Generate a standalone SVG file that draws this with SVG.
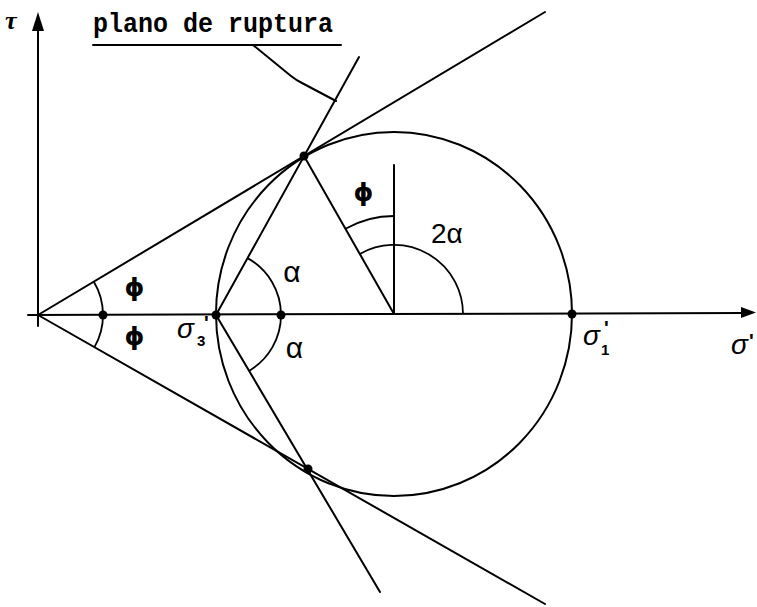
<svg xmlns="http://www.w3.org/2000/svg" width="757" height="607" viewBox="0 0 757 607">
<style>
.ln{stroke:#000;stroke-width:2;fill:none;stroke-linecap:round}
.arc{stroke:#000;stroke-width:1.8;fill:none}
.dot{fill:#000}
.gk{font-family:"Liberation Sans","DejaVu Sans",sans-serif;font-size:30px;fill:#000}
.ph{font-family:"DejaVu Sans",sans-serif;font-size:25px;font-weight:bold;fill:#000}
.sg{font-family:"Liberation Sans","DejaVu Sans",sans-serif;font-style:italic;font-size:28px;fill:#000}
.sub{font-family:"Liberation Sans","DejaVu Sans",sans-serif;font-size:15px;font-weight:bold;fill:#000}
.pr{font-family:"Liberation Sans","DejaVu Sans",sans-serif;font-size:20px;font-weight:bold;fill:#000}
</style>
<rect width="757" height="607" fill="#fff"/>
<g id="axes">
<line class="ln" x1="38" y1="326" x2="38" y2="28"/>
<polygon class="dot" points="38,12 32,31 44,31"/>
<line class="ln" x1="28" y1="315" x2="744" y2="313"/>
<polygon class="dot" points="756,312.5 741,307 741,318"/>
<text x="5" y="29" style="font-family:'Liberation Serif',serif;font-style:italic;font-weight:bold;font-size:26px">τ</text>
<text class="sg" x="731" y="354">σ</text>
<text class="pr" x="749" y="348">'</text>
</g>
<g id="circle">
<ellipse cx="394" cy="314" rx="178" ry="182" class="ln"/>
</g>
<g id="connectors">
<line class="ln" x1="38" y1="315" x2="545" y2="12"/>
<line class="ln" x1="38" y1="315" x2="545" y2="604"/>
<line class="ln" x1="216" y1="315" x2="359" y2="57"/>
<line class="ln" x1="216" y1="315" x2="380" y2="592"/>
<line class="ln" x1="394" y1="314" x2="304" y2="156"/>
<line class="ln" x1="394" y1="314" x2="394" y2="165"/>
</g>
<g id="arcs">
<path class="arc" d="M93.7,281.5 A65,65 0 0 1 103,315"/>
<path class="arc" d="M103,315 A65,65 0 0 1 94.6,346.9"/>
<path class="arc" d="M247.5,258.1 A65,65 0 0 1 281,315"/>
<path class="arc" d="M281,315 A65,65 0 0 1 249.1,370.9"/>
<path class="arc" d="M394,216 A98,98 0 0 0 345.5,228.8"/>
<path class="arc" d="M359.8,254 A69,69 0 0 1 463,314"/>
</g>
<g id="points">
<circle class="dot" cx="103" cy="315" r="4.5"/>
<circle class="dot" cx="216" cy="315" r="4.5"/>
<circle class="dot" cx="281" cy="315" r="4.5"/>
<circle class="dot" cx="572" cy="314" r="4.5"/>
<circle class="dot" cx="304" cy="156" r="4.5"/>
<circle class="dot" cx="308" cy="469" r="4.5"/>
</g>
<g id="label-plano">
<text x="93" y="32" textLength="240" lengthAdjust="spacingAndGlyphs" style="font-family:'Liberation Mono',monospace;font-size:28px;font-weight:bold">plano de ruptura</text>
<line class="ln" x1="93" y1="45" x2="341" y2="45"/>
<path class="ln" d="M253,45 L291,76 Q296,80 302,83 L336,101"/>
</g>
<g id="labels">
<text class="ph" x="134.5" y="296" text-anchor="middle">ϕ</text>
<text class="ph" x="134.5" y="345" text-anchor="middle">ϕ</text>
<text class="ph" x="363.5" y="201" text-anchor="middle">ϕ</text>
<text class="gk" x="292" y="282" text-anchor="middle">α</text>
<text class="gk" x="294.5" y="358" text-anchor="middle">α</text>
<text class="gk" x="431" y="243" style="font-size:28px">2α</text>
<text class="sg" x="177" y="338">σ</text>
<text class="sub" x="197" y="346">3</text>
<text class="pr" x="204" y="330">'</text>
<text class="sg" x="583" y="345">σ</text>
<text class="sub" x="601" y="355">1</text>
<text class="pr" x="604" y="335">'</text>
</g>
</svg>
